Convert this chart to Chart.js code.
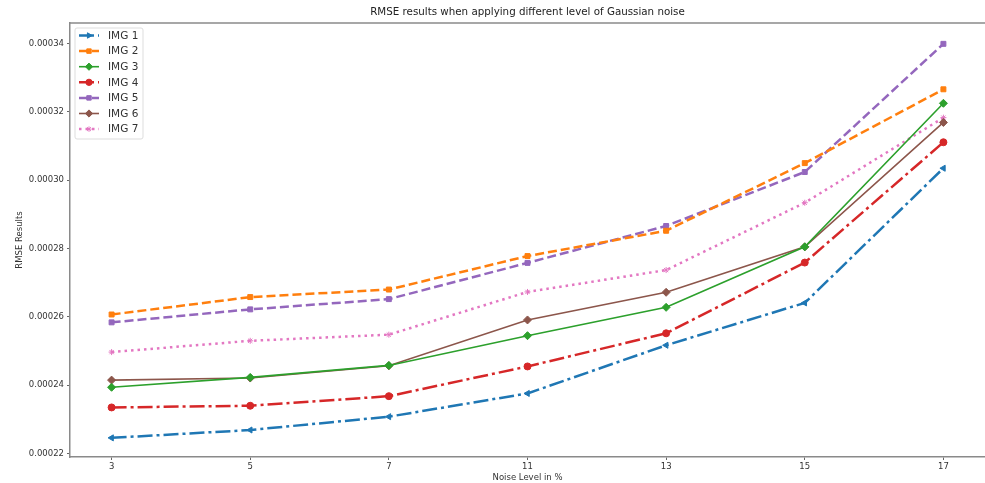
<!DOCTYPE html>
<html>
<head>
<meta charset="utf-8">
<script src="https://cdn.jsdelivr.net/npm/chart.js@4.4.1/dist/chart.umd.min.js"></script>
<style>
  html, body { margin: 0; padding: 0; background: #fff; overflow: hidden; }
  #wrap { width: 990px; height: 483px; }
</style>
</head>
<body>
<div id="wrap"><canvas id="chart"></canvas></div>
<script>
// ---------------- DATA ----------------
const noiseLevels = ["3", "5", "7", "11", "13", "15", "17"];
const yTicks = [0.00022, 0.00024, 0.00026, 0.00028, 0.00030, 0.00032, 0.00034];

const img1 = [0.0002246, 0.0002269, 0.0002308, 0.0002376, 0.0002517, 0.0002641, 0.0003035];
const img2 = [0.0002607, 0.0002658, 0.0002680, 0.0002778, 0.0002852, 0.0003050, 0.0003266];
const img3 = [0.0002394, 0.0002423, 0.0002458, 0.0002545, 0.0002628, 0.0002805, 0.0003225];
const img4 = [0.0002335, 0.0002340, 0.0002368, 0.0002455, 0.0002552, 0.0002759, 0.0003111];
const img5 = [0.0002584, 0.0002622, 0.0002652, 0.0002758, 0.0002866, 0.0003024, 0.0003399];
const img6 = [0.0002415, 0.0002421, 0.0002457, 0.0002591, 0.0002672, 0.0002805, 0.0003169];
const img7 = [0.0002497, 0.0002530, 0.0002548, 0.0002673, 0.0002737, 0.0002934, 0.0003183];

const FONT = "'DejaVu Sans', sans-serif";

// matplotlib-ish styles
function series(label, values, color, dash, width, pointStyle, radius, rotation) {
  return {
    label: label,
    data: values.map((v, i) => ({ x: i, y: v })),
    borderColor: color,
    backgroundColor: color,
    borderWidth: width,
    borderDash: dash,
    pointStyle: pointStyle,
    pointRadius: radius,
    pointRotation: rotation || 0,
    pointBorderWidth: 1,
    pointBackgroundColor: color,
    pointBorderColor: color,
    tension: 0
  };
}

const dashDot = [15, 4, 3, 4];
const dashed = [9, 4];
const dotted = [2.5, 4];

const datasets = [
  series("IMG 1", img1, "#1f77b4", dashDot, 2.5, "triangle", 3.5, -90),
  series("IMG 2", img2, "#ff7f0e", dashed, 2.5, "rect", 3.5),
  series("IMG 3", img3, "#2ca02c", [], 1.6, "rectRot", 4),
  series("IMG 4", img4, "#d62728", dashDot, 2.5, "circle", 3.5),
  series("IMG 5", img5, "#9467bd", dashed, 2.5, "rect", 3.5),
  series("IMG 6", img6, "#8c564b", [], 1.6, "rectRot", 4),
  series("IMG 7", img7, "#e377c2", dotted, 2.5, "star", 3)
];

// ---------------- EXTRAS: title, top spine, legend ----------------
const extras = {
  id: "extras",
  afterDraw(chart) {
    const ctx = chart.ctx;
    const a = chart.chartArea;
    ctx.save();

    // top spine
    ctx.strokeStyle = "#8a8a8a";
    ctx.lineWidth = 1.5;
    ctx.setLineDash([]);
    ctx.beginPath();
    ctx.moveTo(a.left, a.top);
    ctx.lineTo(a.right, a.top);
    ctx.stroke();

    // title
    ctx.fillStyle = "#222";
    ctx.font = "10.3px " + FONT;
    ctx.textAlign = "center";
    ctx.textBaseline = "middle";
    ctx.fillText("RMSE results when applying different level of Gaussian noise", (a.left + a.right) / 2, 12);

    // legend box
    const bx = a.left + 5, by = a.top + 5, bw = 68, bh = 111;
    ctx.fillStyle = "rgba(255,255,255,0.85)";
    ctx.strokeStyle = "#dddddd";
    ctx.lineWidth = 1;
    ctx.beginPath();
    ctx.roundRect(bx, by, bw, bh, 2);
    ctx.fill();
    ctx.stroke();

    chart.data.datasets.forEach((ds, i) => {
      const y = by + 7.5 + i * 15.6;
      const x0 = bx + 4, x1 = bx + 24;
      ctx.strokeStyle = ds.borderColor;
      ctx.lineWidth = ds.borderWidth;
      ctx.setLineDash(ds.borderDash);
      ctx.beginPath();
      ctx.moveTo(x0, y);
      ctx.lineTo(x1, y);
      ctx.stroke();
      ctx.setLineDash([]);
      ctx.lineWidth = 1;
      ctx.fillStyle = ds.borderColor;
      ctx.strokeStyle = ds.borderColor;
      Chart.helpers.drawPoint(ctx, {
        pointStyle: ds.pointStyle,
        rotation: ds.pointRotation === -90 ? 90 : ds.pointRotation,
        radius: ds.pointRadius * 0.9,
        borderWidth: 1
      }, (x0 + x1) / 2, y);

      ctx.fillStyle = "#333";
      ctx.font = "10.5px " + FONT;
      ctx.textAlign = "left";
      ctx.textBaseline = "middle";
      ctx.fillText(ds.label, bx + 33, y + 0.5);
    });

    ctx.restore();
  }
};

// ---------------- CHART ----------------
new Chart(document.getElementById("chart"), {
  type: "line",
  data: { datasets: datasets },
  options: {
    responsive: true,
    maintainAspectRatio: false,
    animation: false,
    layout: { padding: { top: 23, right: 2, left: 0, bottom: 0 } },
    plugins: {
      legend: { display: false },
      title: { display: false },
      tooltip: { enabled: false }
    },
    scales: {
      x: {
        type: "linear",
        min: -0.3,
        max: 6.3,
        afterFit: s => { s.height = 26; },
        afterBuildTicks: s => { s.ticks = noiseLevels.map((_, i) => ({ value: i })); },
        ticks: {
          callback: v => noiseLevels[v],
          font: { family: FONT, size: 8.5 },
          color: "#333",
          padding: 2,
          maxRotation: 0
        },
        grid: { drawOnChartArea: false, drawTicks: true, tickLength: 3, color: "#666" },
        border: { display: true, color: "#8a8a8a", width: 1.5 },
        title: {
          display: true,
          text: "Noise Level in %",
          font: { family: FONT, size: 8.5 },
          color: "#333",
          padding: { top: 0, bottom: 0 }
        }
      },
      y: {
        min: 0.000219,
        max: 0.000346,
        afterFit: s => { s.width = 70; },
        afterBuildTicks: s => { s.ticks = yTicks.map(v => ({ value: v })); },
        ticks: {
          callback: v => v.toFixed(5),
          font: { family: FONT, size: 8.5 },
          color: "#333",
          padding: 3
        },
        grid: { drawOnChartArea: false, drawTicks: true, tickLength: 3, color: "#666" },
        border: { display: true, color: "#8a8a8a", width: 1.5 },
        title: {
          display: true,
          text: "RMSE Results",
          font: { family: FONT, size: 8.5 },
          color: "#333",
          padding: { top: 15, bottom: 0 }
        }
      }
    }
  },
  plugins: [extras]
});
</script>
</body>
</html>
